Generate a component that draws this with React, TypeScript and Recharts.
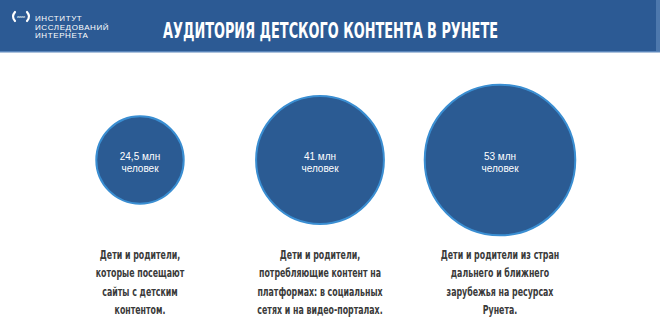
import { ScatterChart, Scatter, XAxis, YAxis, ZAxis } from "recharts";

// audience of children's content in Runet, million people
const categories = ["sites", "platforms", "foreign"];
const audience = [24.5, 41, 53];
const valueLabels = ["24,5 млн", "41 млн", "53 млн"];
const unitLabel = "человек";
const captions = [
  ["Дети и родители,", "которые посещают", "сайты с детским", "контентом."],
  ["Дети и родители,", "потребляющие контент на", "платформах: в социальных", "сетях и на видео-порталах."],
  ["Дети и родители из стран", "дальнего и ближнего", "зарубежья на ресурсах", "Рунета."],
];
const title = "АУДИТОРИЯ ДЕТСКОГО КОНТЕНТА В РУНЕТЕ";
const logoLines = ["ИНСТИТУТ", "ИССЛЕДОВАНИЙ", "ИНТЕРНЕТА"];

const data = categories.map((name, i) => ({
  name,
  row: 0,
  value: audience[i],
  label: valueLabels[i],
  caption: captions[i],
}));

const NARROW = "'Liberation Sans Narrow', 'DejaVu Sans Condensed', sans-serif";
const SANS = "'Liberation Sans', Arial, sans-serif";

function Bubble(props: any) {
  const { cx, cy, payload } = props;
  const r = props.width ? props.width / 2 : Math.sqrt(props.size / Math.PI);
  // the caption face is narrower than anything installed, so squeeze it around cx
  const squeeze = `translate(${cx} 0) scale(0.7 1) translate(${-cx} 0)`;
  return (
    <g>
      <circle cx={cx} cy={cy} r={r} fill="#2b5b93" stroke="#3a8ed2" strokeWidth={2} />
      <text x={cx} y={cy - 0.5} textAnchor="middle" fill="#fff" fontSize={10} fontFamily={SANS}>
        {payload.label}
      </text>
      <text x={cx} y={cy + 11.5} textAnchor="middle" fill="#fff" fontSize={10} fontFamily={SANS}>
        {unitLabel}
      </text>
      <text
        x={cx}
        y={259}
        textAnchor="middle"
        fill="#3a3a3a"
        fontSize={12.5}
        fontWeight="bold"
        fontFamily={NARROW}
        transform={squeeze}
      >
        {payload.caption.map((line: string, i: number) => (
          <tspan key={i} x={cx} dy={i === 0 ? 0 : 18.4}>
            {line}
          </tspan>
        ))}
      </text>
    </g>
  );
}

function Header() {
  return (
    <svg width={660} height={53} style={{ position: "absolute", left: 0, top: 0 }}>
      <rect x={0} y={0} width={660} height={51} fill="#2c5a94" />
      <rect x={0} y={51} width={660} height={1.5} fill="#5b86bb" />
      <rect x={656} y={0} width={4} height={51} fill="#4d78ad" />
      {/* logo mark */}
      <path d="M15 12 Q11 16.5 15 21" stroke="#fff" strokeWidth={2.2} fill="none" strokeLinecap="round" />
      <path d="M27 12 Q31 16.5 27 21" stroke="#fff" strokeWidth={2.2} fill="none" strokeLinecap="round" />
      <text x={21} y={18} textAnchor="middle" fill="#fff" fontSize={3.5} fontFamily={SANS}>
        ииии
      </text>
      {logoLines.map((line, i) => (
        <text key={i} x={35} y={21 + i * 8.6} fill="#fff" fontSize={8} letterSpacing={0.6} fontFamily={SANS}>
          {line}
        </text>
      ))}
      <text
        x={163}
        y={38}
        fill="#fff"
        fontSize={21}
        fontWeight="bold"
        fontFamily={NARROW}
        textLength={335}
        lengthAdjust="spacingAndGlyphs"
      >
        {title}
      </text>
    </svg>
  );
}

export default function App() {
  return (
    <div style={{ position: "fixed", left: 0, top: 0, width: 660, height: 327, background: "#fff" }}>
      <ScatterChart width={660} height={327} margin={{ top: 52, right: 70, bottom: 59, left: 50 }}>
        <XAxis dataKey="name" type="category" hide allowDuplicatedCategory={false} />
        <YAxis dataKey="row" type="number" domain={[-1, 1]} hide />
        <ZAxis dataKey="value" type="number" domain={[10, 53]} range={[0, 17800]} />
        <Scatter data={data} shape={Bubble} isAnimationActive={false} />
      </ScatterChart>
      <Header />
    </div>
  );
}
